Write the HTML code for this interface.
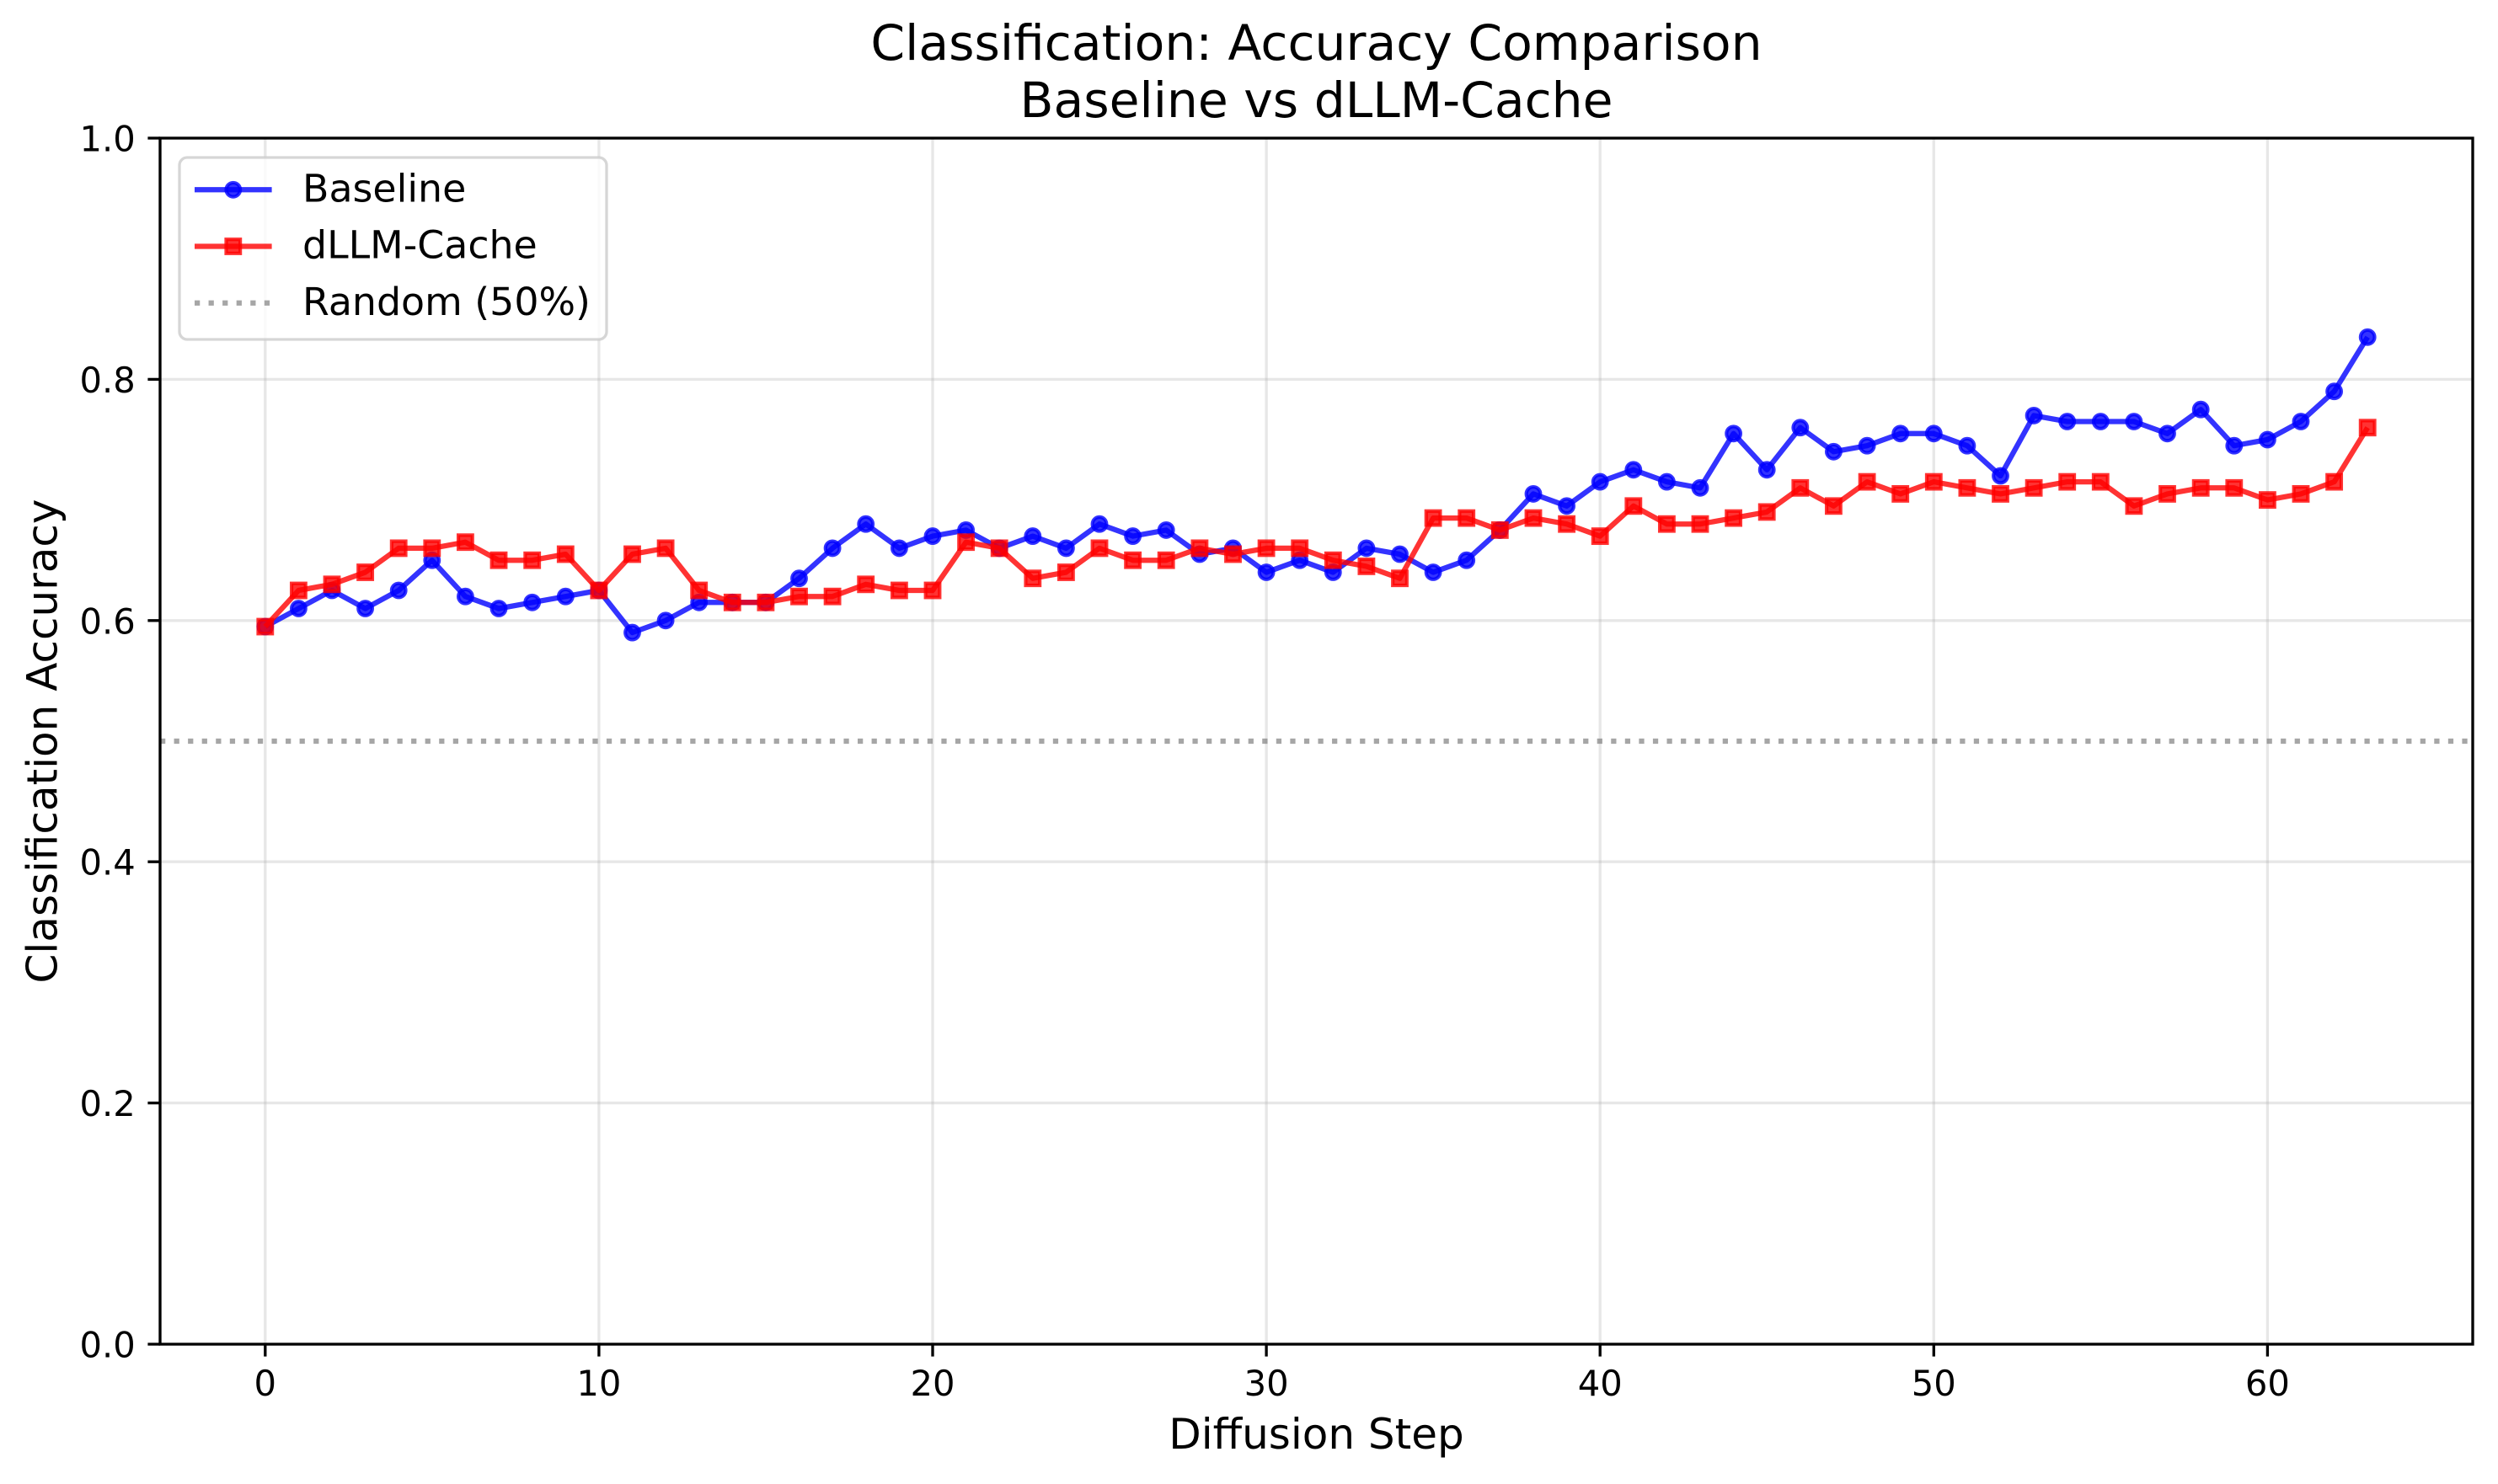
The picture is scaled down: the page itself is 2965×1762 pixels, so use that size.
<!DOCTYPE html>
<html><head><meta charset="utf-8"><style>
html,body{margin:0;padding:0;background:#fff;}
svg{display:block;}
text{font-family:"DejaVu Sans","Liberation Sans",sans-serif;fill:#000;}
</style></head><body>
<svg width="2965" height="1762" viewBox="0 0 2965 1762" xmlns="http://www.w3.org/2000/svg">
<rect x="0" y="0" width="2965" height="1762" fill="#fff"/>
<!-- grid -->
<g stroke="#b0b0b0" stroke-opacity="0.3" stroke-width="3.33">
<line x1="314.8" y1="164" x2="314.8" y2="1596"/>
<line x1="710.9" y1="164" x2="710.9" y2="1596"/>
<line x1="1107.0" y1="164" x2="1107.0" y2="1596"/>
<line x1="1503.1" y1="164" x2="1503.1" y2="1596"/>
<line x1="1899.2" y1="164" x2="1899.2" y2="1596"/>
<line x1="2295.3" y1="164" x2="2295.3" y2="1596"/>
<line x1="2691.4" y1="164" x2="2691.4" y2="1596"/>
<line x1="190" y1="1596" x2="2935" y2="1596"/>
<line x1="190" y1="1309.6" x2="2935" y2="1309.6"/>
<line x1="190" y1="1023.2" x2="2935" y2="1023.2"/>
<line x1="190" y1="736.8" x2="2935" y2="736.8"/>
<line x1="190" y1="450.4" x2="2935" y2="450.4"/>
<line x1="190" y1="164" x2="2935" y2="164"/>
</g>
<defs>
<circle id="mc" r="8.33" fill="#0000ff" fill-opacity="0.8" stroke="#0000ff" stroke-opacity="0.8" stroke-width="4.17"/>
<rect id="ms" x="-8.33" y="-8.33" width="16.67" height="16.67" fill="#ff0000" fill-opacity="0.8" stroke="#ff0000" stroke-opacity="0.8" stroke-width="4.17"/>
</defs>
<!-- Baseline -->
<polyline fill="none" stroke="#0000ff" stroke-opacity="0.8" stroke-width="6.25" stroke-linejoin="round" points="314.8,744.0 354.4,722.5 394.0,701.0 433.6,722.5 473.2,701.0 512.8,665.2 552.4,708.2 592.0,722.5 631.7,715.3 671.3,708.2 710.9,701.0 750.5,751.1 790.1,736.8 829.7,715.3 869.3,715.3 908.9,715.3 948.5,686.7 988.1,650.9 1027.7,622.2 1067.4,650.9 1107.0,636.6 1146.6,629.4 1186.2,650.9 1225.8,636.6 1265.4,650.9 1305.0,622.2 1344.6,636.6 1384.2,629.4 1423.9,658.0 1463.5,650.9 1503.1,679.5 1542.7,665.2 1582.3,679.5 1621.9,650.9 1661.5,658.0 1701.1,679.5 1740.7,665.2 1780.3,629.4 1820.0,586.4 1859.6,600.8 1899.2,572.1 1938.8,557.8 1978.4,572.1 2018.0,579.3 2057.6,514.8 2097.2,557.8 2136.8,507.7 2176.4,536.3 2216.1,529.2 2255.7,514.8 2295.3,514.8 2334.9,529.2 2374.5,565.0 2414.1,493.4 2453.7,500.5 2493.3,500.5 2532.9,500.5 2572.5,514.8 2612.2,486.2 2651.8,529.2 2691.4,522.0 2731.0,500.5 2770.6,464.7 2810.2,400.3"/>
<g>
<use href="#mc" x="314.8" y="744.0"/><use href="#mc" x="354.4" y="722.5"/><use href="#mc" x="394.0" y="701.0"/><use href="#mc" x="433.6" y="722.5"/><use href="#mc" x="473.2" y="701.0"/><use href="#mc" x="512.8" y="665.2"/><use href="#mc" x="552.4" y="708.2"/><use href="#mc" x="592.0" y="722.5"/><use href="#mc" x="631.7" y="715.3"/><use href="#mc" x="671.3" y="708.2"/><use href="#mc" x="710.9" y="701.0"/><use href="#mc" x="750.5" y="751.1"/><use href="#mc" x="790.1" y="736.8"/><use href="#mc" x="829.7" y="715.3"/><use href="#mc" x="869.3" y="715.3"/><use href="#mc" x="908.9" y="715.3"/><use href="#mc" x="948.5" y="686.7"/><use href="#mc" x="988.1" y="650.9"/><use href="#mc" x="1027.7" y="622.2"/><use href="#mc" x="1067.4" y="650.9"/><use href="#mc" x="1107.0" y="636.6"/><use href="#mc" x="1146.6" y="629.4"/><use href="#mc" x="1186.2" y="650.9"/><use href="#mc" x="1225.8" y="636.6"/><use href="#mc" x="1265.4" y="650.9"/><use href="#mc" x="1305.0" y="622.2"/><use href="#mc" x="1344.6" y="636.6"/><use href="#mc" x="1384.2" y="629.4"/><use href="#mc" x="1423.9" y="658.0"/><use href="#mc" x="1463.5" y="650.9"/><use href="#mc" x="1503.1" y="679.5"/><use href="#mc" x="1542.7" y="665.2"/><use href="#mc" x="1582.3" y="679.5"/><use href="#mc" x="1621.9" y="650.9"/><use href="#mc" x="1661.5" y="658.0"/><use href="#mc" x="1701.1" y="679.5"/><use href="#mc" x="1740.7" y="665.2"/><use href="#mc" x="1780.3" y="629.4"/><use href="#mc" x="1820.0" y="586.4"/><use href="#mc" x="1859.6" y="600.8"/><use href="#mc" x="1899.2" y="572.1"/><use href="#mc" x="1938.8" y="557.8"/><use href="#mc" x="1978.4" y="572.1"/><use href="#mc" x="2018.0" y="579.3"/><use href="#mc" x="2057.6" y="514.8"/><use href="#mc" x="2097.2" y="557.8"/><use href="#mc" x="2136.8" y="507.7"/><use href="#mc" x="2176.4" y="536.3"/><use href="#mc" x="2216.1" y="529.2"/><use href="#mc" x="2255.7" y="514.8"/><use href="#mc" x="2295.3" y="514.8"/><use href="#mc" x="2334.9" y="529.2"/><use href="#mc" x="2374.5" y="565.0"/><use href="#mc" x="2414.1" y="493.4"/><use href="#mc" x="2453.7" y="500.5"/><use href="#mc" x="2493.3" y="500.5"/><use href="#mc" x="2532.9" y="500.5"/><use href="#mc" x="2572.5" y="514.8"/><use href="#mc" x="2612.2" y="486.2"/><use href="#mc" x="2651.8" y="529.2"/><use href="#mc" x="2691.4" y="522.0"/><use href="#mc" x="2731.0" y="500.5"/><use href="#mc" x="2770.6" y="464.7"/><use href="#mc" x="2810.2" y="400.3"/>
</g>
<!-- dLLM-Cache -->
<polyline fill="none" stroke="#ff0000" stroke-opacity="0.8" stroke-width="6.25" stroke-linejoin="round" points="314.8,744.0 354.4,701.0 394.0,693.8 433.6,679.5 473.2,650.9 512.8,650.9 552.4,643.7 592.0,665.2 631.7,665.2 671.3,658.0 710.9,701.0 750.5,658.0 790.1,650.9 829.7,701.0 869.3,715.3 908.9,715.3 948.5,708.2 988.1,708.2 1027.7,693.8 1067.4,701.0 1107.0,701.0 1146.6,643.7 1186.2,650.9 1225.8,686.7 1265.4,679.5 1305.0,650.9 1344.6,665.2 1384.2,665.2 1423.9,650.9 1463.5,658.0 1503.1,650.9 1542.7,650.9 1582.3,665.2 1621.9,672.4 1661.5,686.7 1701.1,615.1 1740.7,615.1 1780.3,629.4 1820.0,615.1 1859.6,622.2 1899.2,636.6 1938.8,600.8 1978.4,622.2 2018.0,622.2 2057.6,615.1 2097.2,607.9 2136.8,579.3 2176.4,600.8 2216.1,572.1 2255.7,586.4 2295.3,572.1 2334.9,579.3 2374.5,586.4 2414.1,579.3 2453.7,572.1 2493.3,572.1 2532.9,600.8 2572.5,586.4 2612.2,579.3 2651.8,579.3 2691.4,593.6 2731.0,586.4 2770.6,572.1 2810.2,507.7"/>
<g>
<use href="#ms" x="314.8" y="744.0"/><use href="#ms" x="354.4" y="701.0"/><use href="#ms" x="394.0" y="693.8"/><use href="#ms" x="433.6" y="679.5"/><use href="#ms" x="473.2" y="650.9"/><use href="#ms" x="512.8" y="650.9"/><use href="#ms" x="552.4" y="643.7"/><use href="#ms" x="592.0" y="665.2"/><use href="#ms" x="631.7" y="665.2"/><use href="#ms" x="671.3" y="658.0"/><use href="#ms" x="710.9" y="701.0"/><use href="#ms" x="750.5" y="658.0"/><use href="#ms" x="790.1" y="650.9"/><use href="#ms" x="829.7" y="701.0"/><use href="#ms" x="869.3" y="715.3"/><use href="#ms" x="908.9" y="715.3"/><use href="#ms" x="948.5" y="708.2"/><use href="#ms" x="988.1" y="708.2"/><use href="#ms" x="1027.7" y="693.8"/><use href="#ms" x="1067.4" y="701.0"/><use href="#ms" x="1107.0" y="701.0"/><use href="#ms" x="1146.6" y="643.7"/><use href="#ms" x="1186.2" y="650.9"/><use href="#ms" x="1225.8" y="686.7"/><use href="#ms" x="1265.4" y="679.5"/><use href="#ms" x="1305.0" y="650.9"/><use href="#ms" x="1344.6" y="665.2"/><use href="#ms" x="1384.2" y="665.2"/><use href="#ms" x="1423.9" y="650.9"/><use href="#ms" x="1463.5" y="658.0"/><use href="#ms" x="1503.1" y="650.9"/><use href="#ms" x="1542.7" y="650.9"/><use href="#ms" x="1582.3" y="665.2"/><use href="#ms" x="1621.9" y="672.4"/><use href="#ms" x="1661.5" y="686.7"/><use href="#ms" x="1701.1" y="615.1"/><use href="#ms" x="1740.7" y="615.1"/><use href="#ms" x="1780.3" y="629.4"/><use href="#ms" x="1820.0" y="615.1"/><use href="#ms" x="1859.6" y="622.2"/><use href="#ms" x="1899.2" y="636.6"/><use href="#ms" x="1938.8" y="600.8"/><use href="#ms" x="1978.4" y="622.2"/><use href="#ms" x="2018.0" y="622.2"/><use href="#ms" x="2057.6" y="615.1"/><use href="#ms" x="2097.2" y="607.9"/><use href="#ms" x="2136.8" y="579.3"/><use href="#ms" x="2176.4" y="600.8"/><use href="#ms" x="2216.1" y="572.1"/><use href="#ms" x="2255.7" y="586.4"/><use href="#ms" x="2295.3" y="572.1"/><use href="#ms" x="2334.9" y="579.3"/><use href="#ms" x="2374.5" y="586.4"/><use href="#ms" x="2414.1" y="579.3"/><use href="#ms" x="2453.7" y="572.1"/><use href="#ms" x="2493.3" y="572.1"/><use href="#ms" x="2532.9" y="600.8"/><use href="#ms" x="2572.5" y="586.4"/><use href="#ms" x="2612.2" y="579.3"/><use href="#ms" x="2651.8" y="579.3"/><use href="#ms" x="2691.4" y="593.6"/><use href="#ms" x="2731.0" y="586.4"/><use href="#ms" x="2770.6" y="572.1"/><use href="#ms" x="2810.2" y="507.7"/>
</g>
<!-- Random line -->
<line x1="190" y1="880" x2="2935" y2="880" stroke="#808080" stroke-opacity="0.7" stroke-width="6.25" stroke-dasharray="6.25 10.31"/>
<!-- spines -->
<rect x="190" y="164" width="2745" height="1432" fill="none" stroke="#000" stroke-width="3.33" stroke-linecap="square"/>
<!-- ticks -->
<g stroke="#000" stroke-width="3.33">
<line x1="314.8" y1="1596" x2="314.8" y2="1610.6"/>
<line x1="710.9" y1="1596" x2="710.9" y2="1610.6"/>
<line x1="1107.0" y1="1596" x2="1107.0" y2="1610.6"/>
<line x1="1503.1" y1="1596" x2="1503.1" y2="1610.6"/>
<line x1="1899.2" y1="1596" x2="1899.2" y2="1610.6"/>
<line x1="2295.3" y1="1596" x2="2295.3" y2="1610.6"/>
<line x1="2691.4" y1="1596" x2="2691.4" y2="1610.6"/>
<line x1="175.4" y1="1596" x2="190" y2="1596"/>
<line x1="175.4" y1="1309.6" x2="190" y2="1309.6"/>
<line x1="175.4" y1="1023.2" x2="190" y2="1023.2"/>
<line x1="175.4" y1="736.8" x2="190" y2="736.8"/>
<line x1="175.4" y1="450.4" x2="190" y2="450.4"/>
<line x1="175.4" y1="164" x2="190" y2="164"/>
</g>
<!-- tick labels -->
<g font-size="41.67" text-anchor="middle">
<text x="314.8" y="1657">0</text>
<text x="710.9" y="1657">10</text>
<text x="1107.0" y="1657">20</text>
<text x="1503.1" y="1657">30</text>
<text x="1899.2" y="1657">40</text>
<text x="2295.3" y="1657">50</text>
<text x="2691.4" y="1657">60</text>
</g>
<g font-size="41.67" text-anchor="end">
<text x="160.8" y="1611.5">0.0</text>
<text x="160.8" y="1325.1">0.2</text>
<text x="160.8" y="1038.7">0.4</text>
<text x="160.8" y="752.3">0.6</text>
<text x="160.8" y="465.9">0.8</text>
<text x="160.8" y="179.5">1.0</text>
</g>
<!-- axis labels -->
<text x="1562.5" y="1720" font-size="50" text-anchor="middle">Diffusion Step</text>
<text transform="translate(67.5,880) rotate(-90)" x="0" y="0" font-size="50" text-anchor="middle">Classification Accuracy</text>
<!-- title -->
<text x="1562.5" y="71" font-size="58.33" text-anchor="middle">Classification: Accuracy Comparison</text>
<text x="1562.5" y="139" font-size="58.33" text-anchor="middle">Baseline vs dLLM-Cache</text>
<!-- legend -->
<rect x="213" y="187" width="507" height="216" rx="9.2" ry="9.2" fill="#ffffff" fill-opacity="0.8" stroke="#cccccc" stroke-opacity="0.8" stroke-width="3.33"/>
<line x1="231" y1="225.3" x2="322.6" y2="225.3" stroke="#0000ff" stroke-opacity="0.8" stroke-width="6.25"/>
<use href="#mc" x="276.8" y="225.3"/>
<line x1="231" y1="292.5" x2="322.6" y2="292.5" stroke="#ff0000" stroke-opacity="0.8" stroke-width="6.25"/>
<use href="#ms" x="276.8" y="292.5"/>
<line x1="231" y1="359.7" x2="322.6" y2="359.7" stroke="#808080" stroke-opacity="0.7" stroke-width="6.25" stroke-dasharray="6.25 10.31"/>
<g font-size="45.83">
<text x="359" y="239.5">Baseline</text>
<text x="359" y="306.7">dLLM-Cache</text>
<text x="359" y="373.9">Random (50%)</text>
</g>
</svg>
</body></html>
